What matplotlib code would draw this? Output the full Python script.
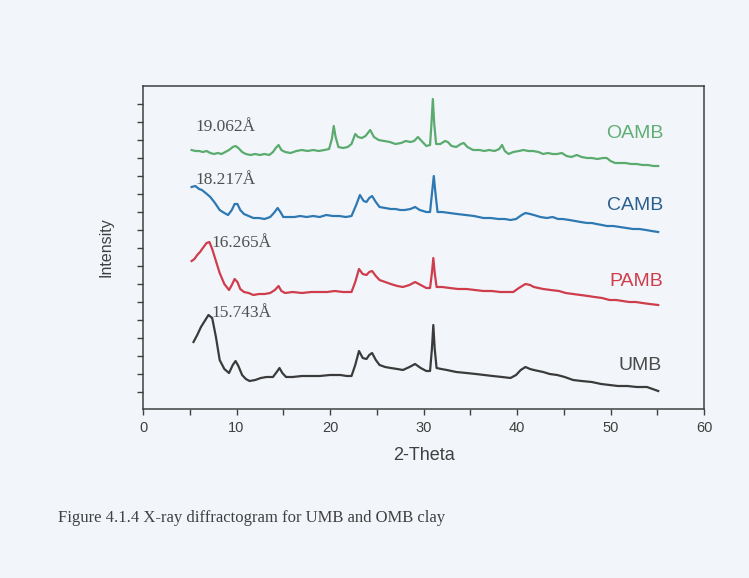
import numpy as np
import matplotlib.pyplot as plt

# 2-theta (deg) and intensity (arbitrary units, stacked)
oamb_x = [5.2, 5.6, 6.0, 6.4, 6.8, 7.2, 7.6, 8.0, 8.4, 8.8, 9.2, 9.6, 9.9, 10.2, 10.6,
          11.0, 11.5, 12.0, 12.5, 13.0, 13.5, 13.9, 14.2, 14.5, 14.8, 15.2, 15.8,
          16.4, 17.0, 17.6, 18.2, 18.8, 19.4, 19.9, 20.2, 20.4, 20.6, 20.9, 21.4,
          21.9, 22.3, 22.7, 23.0, 23.4, 23.8, 24.3, 24.7, 25.2, 25.8, 26.4, 27.0,
          27.6, 28.1, 28.6, 29.0, 29.4, 29.8, 30.3, 30.7, 30.85, 31.0, 31.15, 31.35,
          31.8, 32.3, 32.6, 33.0, 33.5, 34.0, 34.3, 34.7, 35.3, 36.0, 36.5, 37.0,
          37.6, 38.1, 38.4, 38.7, 39.1, 39.6, 40.2, 40.7, 41.2, 41.7, 42.3, 42.8,
          43.3, 43.8, 44.3, 44.8, 45.3, 45.8, 46.4, 46.9, 47.5, 48.0, 48.6, 49.2,
          49.6, 50.0, 50.5, 51.0, 51.6, 52.2, 52.8, 53.4, 54.0, 54.6, 55.1]
oamb_y = [259, 258, 258, 257, 258, 256, 255, 256, 255, 257, 259, 262, 263, 261, 257,
          255, 254, 255, 254, 255, 254, 257, 261, 264, 259, 257, 256,
          258, 259, 258, 259, 258, 259, 260, 270, 283, 272, 262, 261,
          262, 265, 275, 272, 271, 273, 279, 272, 269, 268, 267, 265,
          266, 268, 267, 268, 272, 268, 263, 264, 285, 310, 285, 265,
          265, 268, 267, 263, 262, 265, 266, 262, 259, 259, 258, 259,
          258, 260, 264, 258, 255, 257, 258, 259, 258, 258, 257, 255,
          256, 255, 255, 256, 253, 252, 254, 252, 251, 251, 250, 251,
          251, 248, 246, 246, 246, 245, 245, 244, 244, 243, 243]

camb_x = [5.2, 5.6, 6.0, 6.3, 6.7, 7.2, 7.7, 8.2, 8.7, 9.1, 9.5, 9.8, 10.1, 10.4,
          10.8, 11.3, 11.8, 12.4, 13.0, 13.6, 14.0, 14.4, 14.7, 15.0, 15.6, 16.2,
          16.8, 17.5, 18.2, 18.9, 19.6, 20.3, 21.0, 21.7, 22.3, 22.8, 23.2, 23.6,
          23.9, 24.2, 24.5, 24.9, 25.3, 25.9, 26.5, 27.0, 27.5, 28.0, 28.6, 29.1,
          29.6, 30.3, 30.7, 30.9, 31.1, 31.3, 31.5, 32.0, 32.8, 33.6, 34.5, 35.4,
          36.4, 37.2, 38.0, 38.7, 39.3, 39.9, 40.5, 40.9, 41.4, 41.8, 42.5, 43.2,
          43.8, 44.4, 44.9, 45.6, 46.2, 46.8, 47.5, 48.0, 48.5, 49.1, 49.6, 50.3,
          51.0, 51.7, 52.4, 53.1, 53.8, 54.4, 55.1]
camb_y = [222, 223, 220, 219, 216, 212, 206, 199, 196, 194, 199, 205, 205, 199,
          195, 193, 191, 191, 190, 192, 196, 201, 197, 192, 192, 192,
          193, 192, 193, 192, 194, 193, 193, 192, 193, 204, 214, 208,
          207, 211, 213, 207, 202, 201, 200, 200, 199, 199, 200, 202,
          199, 197, 197, 215, 233, 214, 197, 197, 196, 195, 194, 193,
          191, 191, 190, 190, 189, 190, 194, 196, 195, 194, 192, 191,
          192, 190, 190, 189, 188, 187, 186, 186, 185, 184, 183, 183,
          182, 181, 180, 180, 179, 178, 177]

pamb_x = [5.2, 5.5, 5.8, 6.1, 6.4, 6.8, 7.1, 7.4, 7.8, 8.2, 8.7, 9.2, 9.5, 9.8,
          10.1, 10.4, 10.8, 11.3, 11.8, 12.4, 13.0, 13.6, 14.1, 14.5, 14.8, 15.2,
          16.0, 17.0, 18.0, 18.9, 19.7, 20.5, 21.4, 22.3, 22.7, 23.1, 23.5, 23.9,
          24.2, 24.5, 24.9, 25.3, 25.9, 26.5, 27.2, 27.8, 28.5, 29.1, 29.7, 30.3,
          30.7, 30.9, 31.05, 31.2, 31.4, 32.0, 32.8, 33.7, 34.6, 35.5, 36.4, 37.3,
          38.2, 39.0, 39.6, 40.2, 40.9, 41.4, 41.8, 42.3, 42.8, 43.6, 44.5, 45.2,
          46.0, 46.8, 47.6, 48.3, 49.1, 49.9, 50.6, 51.3, 52.0, 52.7, 53.4, 54.2, 55.1]
pamb_y = [148, 150, 154, 157, 161, 166, 167, 160, 148, 136, 125, 119, 124, 130,
          127, 120, 117, 116, 114, 115, 115, 116, 119, 123, 118, 116,
          117, 116, 117, 117, 117, 118, 117, 117, 127, 140, 135, 134,
          137, 138, 133, 129, 127, 125, 123, 122, 124, 127, 124, 121,
          121, 136, 151, 136, 122, 122, 121, 120, 120, 119, 118, 118,
          117, 117, 117, 121, 125, 124, 122, 121, 120, 119, 118, 116,
          115, 114, 113, 112, 111, 109, 109, 108, 107, 107, 106, 105, 104]

umb_x = [5.4, 5.8, 6.2, 6.6, 7.0, 7.4, 7.8, 8.2, 8.7, 9.2, 9.6, 9.9, 10.2, 10.6,
         11.0, 11.4, 12.0, 12.6, 13.2, 13.9, 14.3, 14.6, 14.9, 15.3, 16.0, 17.0,
         18.0, 18.9, 20.0, 21.1, 21.8, 22.3, 22.7, 23.1, 23.5, 23.9, 24.2, 24.5,
         24.9, 25.3, 25.9, 26.5, 27.2, 27.8, 28.5, 29.1, 29.7, 30.3, 30.7, 30.9,
         31.05, 31.2, 31.4, 31.9, 32.5, 33.5, 34.6, 35.6, 36.5, 37.4, 38.4, 39.3,
         39.9, 40.4, 40.9, 41.4, 41.8, 42.3, 42.8, 43.5, 44.3, 45.1, 46.0, 46.9,
         48.0, 49.0, 49.9, 50.8, 51.8, 52.8, 53.9, 54.5, 55.1]
umb_y = [67, 74, 82, 88, 94, 91, 72, 49, 40, 36, 44, 48, 43, 34,
         30, 28, 29, 31, 32, 32, 37, 41, 36, 32, 32, 33,
         33, 33, 34, 34, 33, 33, 44, 58, 51, 50, 54, 56,
         49, 44, 42, 41, 40, 39, 42, 45, 41, 38, 38, 60,
         84, 60, 41, 40, 39, 37, 36, 35, 34, 33, 32, 31,
         34, 39, 42, 40, 39, 38, 37, 35, 34, 32, 29, 28,
         27, 25, 24, 23, 23, 22, 22, 20, 18]

series = [
    (oamb_x, oamb_y, '#5bab6f', 'OAMB', 635, 133, '19.062Å', 5.6, 282),
    (camb_x, camb_y, '#2f79b3', 'CAMB', 635, 206, '18.217Å', 5.6, 229),
    (pamb_x, pamb_y, '#cf3d4c', 'PAMB', 636, 282, '16.265Å', 7.3, 166),
    (umb_x, umb_y, '#3b3b3b', 'UMB', 640, 366, '15.743Å', 7.3, 96),
]
name_colors = ['#5fae74', '#2c5f8e', '#cf3d4c', '#4a4a4a']

bg = '#f2f6fa'
fig = plt.figure(figsize=(7.49, 5.78), dpi=100, facecolor=bg)
ax = fig.add_axes([143 / 749, 1 - 409 / 578, 561 / 749, 323 / 578])
ax.set_facecolor(bg)

for (xs, ys, col, name, lx, ly, dlab, dx, dy), ncol in zip(series, name_colors):
    ax.plot(xs, ys, color=col, lw=1.6)
    fig.text(lx / 749, 1 - ly / 578, name, color=ncol, fontsize=14,
             family='Liberation Sans', ha='center', va='center')
    ax.text(dx, dy, dlab, family='Liberation Serif', fontsize=12.5,
            color='#505050', ha='left', va='center')

ax.set_xlim(0, 60)
ax.set_ylim(0, 323)
ax.set_xticks(np.arange(0, 61, 10))
ax.set_xticks(np.arange(5, 60, 10), minor=True)
ax.set_yticks(np.arange(17, 323, 18))
ax.set_yticklabels([])
for lab in ax.get_xticklabels():
    lab.set_family('Liberation Sans')
ax.tick_params(axis='x', which='both', direction='out', length=4, width=1,
               labelsize=10.5, colors='#404040', pad=5)
ax.tick_params(axis='y', direction='out', length=4, width=1, colors='#404040')
for sp in ax.spines.values():
    sp.set_color('#404040')
    sp.set_linewidth(1.1)

ax.set_xlabel('2-Theta', family='Liberation Sans', fontsize=13,
              color='#404040', labelpad=8)
ax.set_ylabel('Intensity', family='Liberation Sans', fontsize=11.5,
              color='#404040', labelpad=14)

fig.text(58 / 749, 1 - 518 / 578, 'Figure 4.1.4 X-ray diffractogram for UMB and OMB clay',
         family='Liberation Serif', fontsize=12, color='#404040', va='center')

fig.savefig('out.png', dpi=100, facecolor=bg)
